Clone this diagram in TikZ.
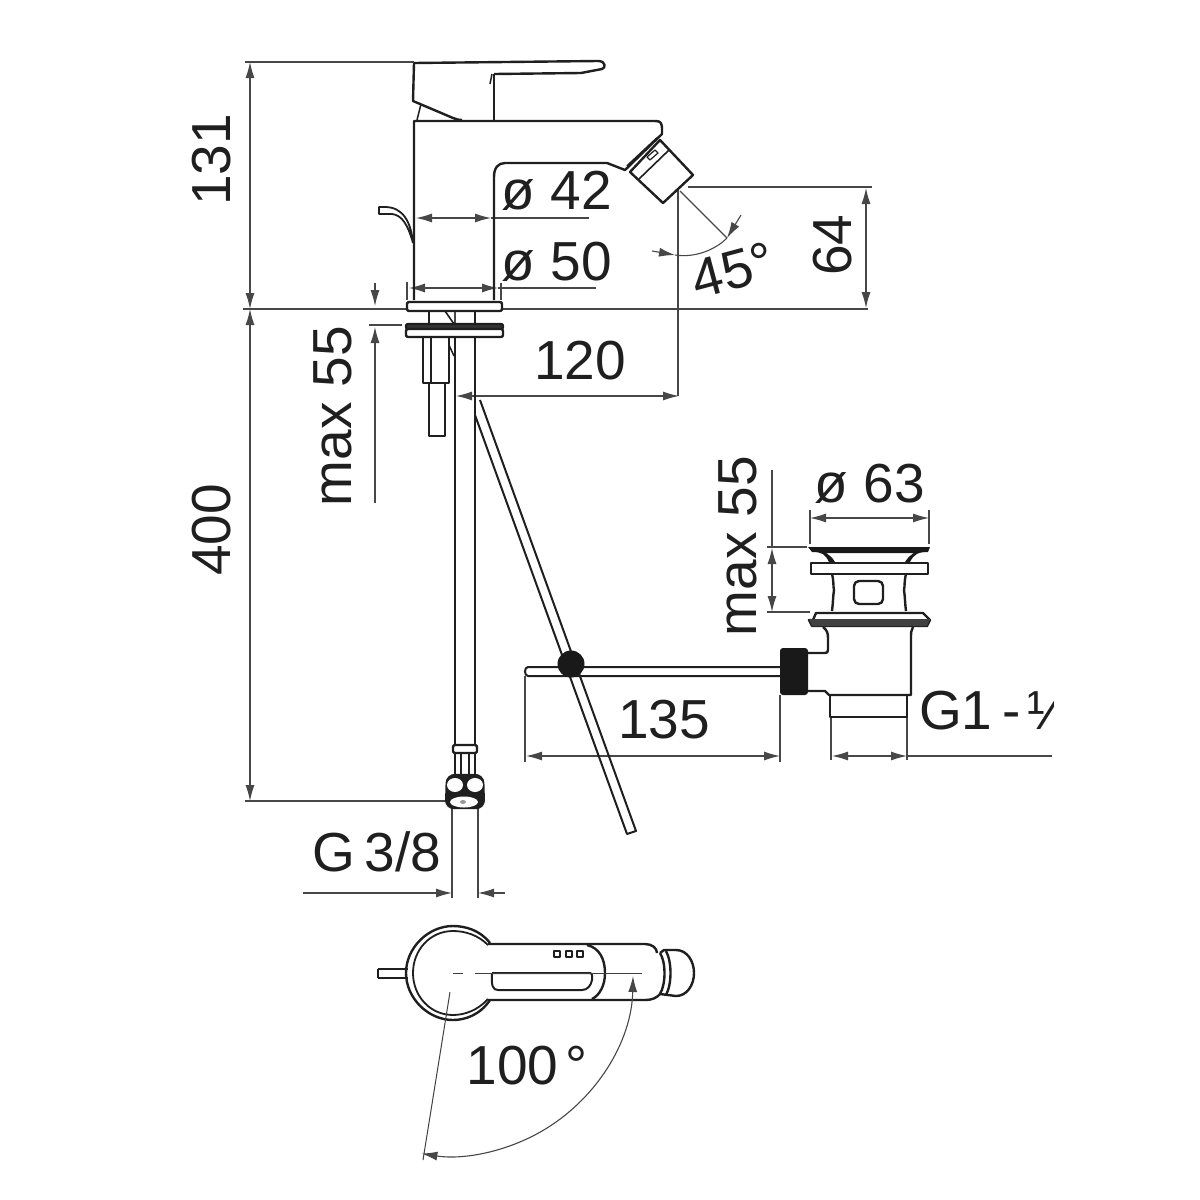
\documentclass[tikz,border=0pt]{standalone}
\usepackage{fontspec}
\setmainfont{Liberation Sans}
\usetikzlibrary{arrows.meta}
\tikzset{
  part/.style={draw=black!88,line width=2.4pt,line join=round},
  thin line/.style={draw=black!75,line width=1pt},
  dim/.style={draw=black!72,line width=1.1pt},
  dimboth/.style={dim,{Latex[length=16pt,width=9pt]}-{Latex[length=16pt,width=9pt]}},
  tipend/.style={dim,-{Latex[length=16pt,width=9pt]}},
  label/.style={inner sep=0pt,font=\fontsize{55}{60}\selectfont,text=black!88},
}
\begin{document}
\begin{tikzpicture}[x=1pt,y=-1pt]
\useasboundingbox (0,0) rectangle (1200,1200);
% ---- dimension lines
\coordinate (a131t) at (250,62); \coordinate (a131b) at (250,309); \coordinate (a400b) at (250,801);
\draw[dimboth] (a131t) -- (a131b);
\draw[dimboth] (a131b) -- (a400b);
\draw[dim] (245,62) -- (414,62);
\draw[dim] (243,309) -- (406,309);
\draw[dim] (503,309) -- (868,309);
\draw[dim] (245,801) -- (447,801);
% max 55 left
\draw[tipend] (375,283) -- (375,306);
\draw[tipend] (375,503) -- (375,327);
\draw[dim] (369,325) -- (402,325);
% phi 42, 50
\draw[dimboth] (416,218) -- (491,218);
\draw[dim] (491,218) -- (589,218);
\draw[dimboth] (409,288) -- (498,288);
\draw[dim] (498,288) -- (596,288);
\draw[dim] (407,282) -- (407,300);
\draw[dim] (501,283) -- (501,300);
% 120
\draw[dimboth] (456,396) -- (679,396);
\draw[dim] (455,311) -- (455,396);
\draw[dim] (678,190) -- (678,396);
% 64
\draw[dim] (688,187) -- (872,187);
\draw[dimboth] (866,188) -- (866,308);
% 45
\draw[dim] (680,191) -- (727,238);
\draw[tipend] (652,251) -- (675,255);
\draw[tipend] (741,215) -- (727,238);
\draw[dim] (675,255) .. controls (695,258) and (715,250) .. (727,238);
% 135
\draw[dimboth] (526,756) -- (780,756);
\draw[dim] (525,676) -- (525,762);
\draw[dim] (780,695) -- (780,762);
% G1-1/4
\draw[dim] (831,717) -- (831,760);
\draw[dim] (907,717) -- (907,760);
\draw[dimboth] (832,756) -- (907,756);
\draw[dim] (907,756) -- (1052,756);
% G3/8
\draw[tipend] (303,893) -- (452,893);
\draw[tipend] (505,893) -- (478,893);
\draw[dim] (452,808) -- (452,898);
\draw[dim] (478,808) -- (478,898);
% phi 63
\draw[dimboth] (810,518) -- (929,518);
\draw[dim] (810,510) -- (810,544);
\draw[dim] (929,510) -- (929,544);
% max 55 right
\draw[dimboth] (772,548) -- (772,612);
\draw[dim] (772,470) -- (772,548);
\draw[dim] (767,547) -- (807,547);
\draw[dim] (767,612) -- (810,612);
% ---- faucet side view
\draw[part] (414,63) -- (598,61) .. controls (606,61) and (606,68) .. (602,69) -- (581,73) -- (494,74);
\draw[part,line width=1.5pt] (490,84) -- (492,74);
\draw[part] (494,74) -- (494,120);
\draw[part] (414,63) -- (413,101) -- (453,118) .. controls (456,119) and (458,120) .. (462,120);
\draw[part,line width=1.5pt] (417,120) -- (421,104);
\draw[part] (414,300) -- (414,121) -- (655,121) .. controls (661,121) and (662,123) .. (662,130) -- (662,134) -- (625,170) -- (607,163) -- (505,163) .. controls (498,163) and (494,168) .. (494,177) -- (494,300);
% nozzle
\draw[part,line width=1.8pt] (627,166) -- (657,138);
\draw[part] (660,140) -- (693,175) -- (663,203) -- (630,172) -- cycle;
\draw[part,line width=1.6pt] (639,179) -- (669,150);
\draw[part,line width=1.2pt] (647,157) -- (655,150) -- (658,153) -- (650,160) -- cycle;
% lever
\draw[part,line width=1.8pt] (413,243) .. controls (411,222) and (403,207) .. (385,207) -- (379,207) -- (379,214) -- (392,214) .. controls (402,215) and (408,225) .. (413,243);
% flange
\draw[part,rounded corners=2pt,fill=white] (407,302) rectangle (502,311);
\foreach \xa in {429,475}{\draw[part,line width=1.6pt] (\xa,311) -- (\xa,324);}
\draw[part,line width=1.6pt] (445,311) -- (454,324);
\draw[part,rounded corners=2pt,fill=black!80] (406,324) rectangle (503,329);
\draw[part,rounded corners=2pt,fill=white] (406,329) rectangle (503,337);
\draw[part] (423,337) -- (423,383) -- (449,383) -- (449,337);
\draw[part,line width=1.5pt] (431,337) -- (431,383);
\draw[part] (429,383) -- (429,436) -- (445,436) -- (445,383);
\draw[part,line width=1.5pt] (449,345) -- (454,356);
% hose
\draw[part,line width=2pt] (455,337) -- (455,745);
\draw[part,line width=2pt] (475,337) -- (475,745);
% fitting
\draw[part,rounded corners=2pt] (453,745) rectangle (477,753);
\draw[part,line width=1.8pt] (455,753) -- (455,775) (475,753) -- (475,775);
\draw[part,line width=1.4pt] (461,753) -- (461,775) (469,753) -- (469,775);
\draw[part,fill=black!88,rounded corners=8pt] (447,775) -- (483,775) -- (484,808) -- (446,808) -- cycle;
\fill[white] (455,785) ellipse (8 and 7);
\fill[white] (475,785) ellipse (8 and 7);
\fill[white] (464,802) ellipse (14 and 5.5);
\fill[black!40] (463,802) ellipse (3 and 2);
% rod
\draw[part,line width=2pt] (480,400) -- (636,831) -- (627,834) -- (475,415);
% drain rod
\draw[part,line width=2pt] (780,667) -- (528,667) .. controls (524,667) and (524,676) .. (528,676) -- (780,676);
\fill[black!90] (571,664) circle (13.5);
% pop-up waste
\fill[black!90,rounded corners=3pt] (780,648) rectangle (808,695);
\fill[black!90] (808,547) -- (930,547) -- (928,552) .. controls (918,552) and (914,554) .. (910,562) -- (905,562) .. controls (908,557) and (911,555) .. (914,553) -- (826,553) .. controls (829,555) and (832,557) .. (835,562) -- (829,562) .. controls (825,554) and (822,552) .. (812,552) -- cycle;
\draw[part,fill=white] (811,563) rectangle (928,574);
\draw[part] (832,574) .. controls (834,582) and (833,586) .. (834,590) .. controls (833,596) and (833,604) .. (832,611);
\draw[part] (906,574) .. controls (904,582) and (905,586) .. (904,590) .. controls (905,596) and (905,604) .. (906,611);
\draw[part,rounded corners=5pt] (854,581) rectangle (883,604);
\draw[part] (813,620) -- (816,613) -- (923,613) -- (930,620) -- (927,626) -- (812,626) -- (809,620) -- cycle;
\fill[black!75] (809,619) -- (930,619) -- (927,626) -- (812,626) -- cycle;
\draw[part] (823,627) .. controls (827,630) and (828,633) .. (828,638) -- (828,650) .. controls (828,652) and (827,653) .. (825,653) -- (808,653);
\draw[part] (913,627) .. controls (911,630) and (911,633) .. (911,638) -- (911,695) -- (829,695) -- (825,691) -- (808,691);
\draw[part] (830,696) -- (830,717) -- (907,717) -- (907,696);
% ---- top view
\draw[part] (378,969) -- (408,969) (378,978) -- (408,978) (378,969) -- (378,978);
\draw[part,line width=2.4pt] (490,943) .. controls (480,930) and (465,926) .. (453,926) .. controls (428,926) and (406,948) .. (406,973) .. controls (406,998) and (428,1020) .. (453,1020) .. controls (465,1020) and (480,1015) .. (490,1000);
\draw[part,line width=1.8pt] (488,945) .. controls (478,935) and (465,931) .. (453,931) .. controls (430,931) and (413,950) .. (413,973) .. controls (413,996) and (430,1015) .. (453,1015) .. controls (465,1015) and (478,1010) .. (488,999);
\draw[part] (488,944) -- (645,944) .. controls (652,944) and (657,948) .. (657,953);
\draw[part] (488,1000) -- (645,1000) .. controls (652,1000) and (657,998) .. (661,993);
\draw[part] (587,945) .. controls (600,948) and (605,960) .. (605,973) .. controls (605,985) and (600,995) .. (592,999);
\draw[part] (660,953) .. controls (666,962) and (666,984) .. (660,994);
\draw[part] (666,951) .. controls (672,962) and (672,984) .. (666,995);
\draw[part] (660,953) -- (664,950) -- (676,950) .. controls (687,950) and (694,961) .. (694,973) .. controls (694,985) and (687,996) .. (676,996) -- (660,994);
\draw[part,line width=2pt] (492,973) -- (590,973) .. controls (593,973) and (592,978) .. (592,980) .. controls (591,986) and (587,990) .. (582,990) -- (498,990) .. controls (493,990) and (491,986) .. (492,973);
\foreach \xb in {554,566,577}{\draw[part,line width=1.7pt] (\xb,951) rectangle ++(6,6);}
\draw[thin line] (453,973) -- (463,973) (475,973) -- (642,973);
\draw[thin line] (450,992) -- (423,1160);
\draw[dim,{Latex[length=16pt,width=9pt]}-{Latex[length=16pt,width=9pt]}] (633,976) arc[start angle=1,end angle=99,radius=183];
% ---- labels
\node[label,rotate=90] (t131) at (212,160) {131};
\node[label,rotate=90] (t400) at (212,530) {400};
\node[label,rotate=90] (tm55) at (333,416) {max 55};
\node[label] (t42) at (557,191) {ø 42};
\node[label] (t50) at (557,262) {ø 50};
\node[label] (t120) at (580,361) {120};
\node[label,rotate=90] (t64) at (833,245) {64};
\node[label,rotate=15] (t45) at (733,270) {45°};
\node[label] (t63) at (870,484) {ø 63};
\node[label,rotate=90] (tm55b) at (738,546) {max 55};
\node[label] (t135) at (664,720) {135};
\begin{scope}
\clip (900,680) rectangle (1053,750);
\node[label,anchor=west] (tg1) at (919,711) {G1\hspace{.18em}-\hspace{.12em}¼};
\end{scope}
\node[label] (tg38) at (377,852) {G\hspace{.16em}3/8};
\node[label] (t100) at (527,1066) {100\hspace{.12em}°};
\end{tikzpicture}
\end{document}
